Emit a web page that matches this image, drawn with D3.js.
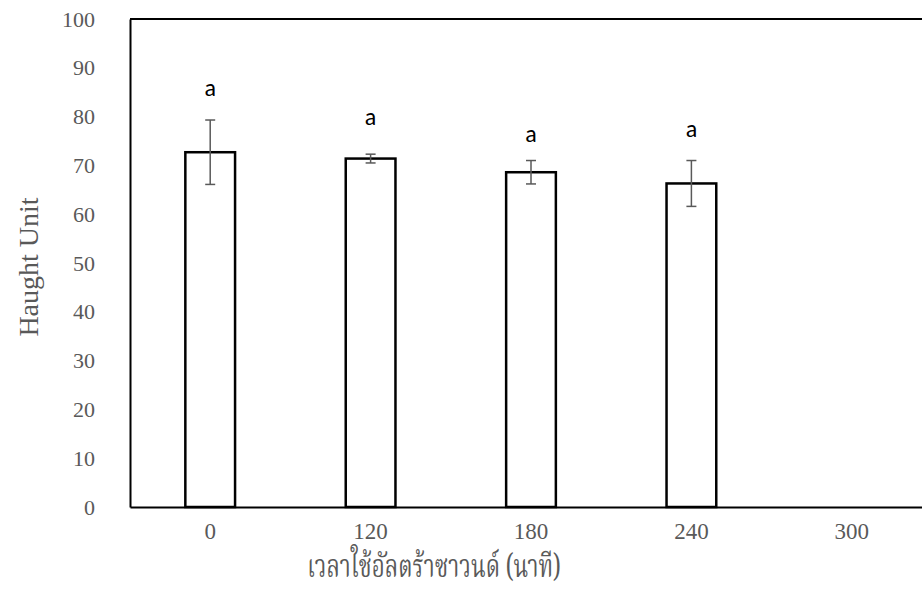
<!DOCTYPE html>
<html><head><meta charset="utf-8">
<script src="https://cdn.jsdelivr.net/npm/d3@7"></script>
<style>body{margin:0;background:#fff}</style>
</head><body>
<svg id="c" width="922" height="609"></svg>
<script>
const categories = ["0","120","180","240","300"];
const means = [72.7, 71.4, 68.6, 66.3, 0];
const errors = [6.6, 0.9, 2.4, 4.7, 0];
const letters = ["a","a","a","a",""];
const letterPos = [86.0, 79.9, 76.6, 77.5, 0];
const yTicks = [0,10,20,30,40,50,60,70,80,90,100];
const yTitle = "Haught Unit";
const xTitle = "เวลาใช้อัลตร้าซาวนด์ (นาที)";

const svg = d3.select("#c");
const L = 130, R = 932, T = 19, B = 507;
const x = d3.scaleBand().domain(categories).range([L, R]).padding(0);
const y = d3.scaleLinear().domain([0, 100]).range([B, T]);
const bw = x.bandwidth() * 0.31;
const gray = "#595959";
const serif = "'Liberation Serif','Times New Roman',serif";

const data = categories.map((c,i)=>({c, v: means[i], e: errors[i], l: letters[i], lp: letterPos[i]})).filter(d=>d.v>0);

// top frame line
svg.append("line").attr("x1", L).attr("x2", 922).attr("y1", y(100)).attr("y2", y(100))
  .attr("stroke", "#000").attr("stroke-width", 2);

// bars
svg.append("g").selectAll("rect").data(data)
  .join("rect")
  .attr("x", d => x(d.c) + x.bandwidth()/2 - bw/2)
  .attr("width", bw)
  .attr("y", d => y(d.v))
  .attr("height", d => y(0) - y(d.v))
  .attr("fill", "#fff").attr("stroke", "#000").attr("stroke-width", 2.5);

const eg = svg.append("g").attr("stroke", gray).attr("stroke-width", 1.5);
data.forEach(d => {
  const cx = x(d.c) + x.bandwidth()/2;
  eg.append("line").attr("x1", cx).attr("x2", cx).attr("y1", y(d.v + d.e)).attr("y2", y(d.v - d.e));
  eg.append("line").attr("x1", cx-5).attr("x2", cx+5).attr("y1", y(d.v + d.e)).attr("y2", y(d.v + d.e));
  eg.append("line").attr("x1", cx-5).attr("x2", cx+5).attr("y1", y(d.v - d.e)).attr("y2", y(d.v - d.e));
});

svg.append("g").selectAll("text").data(data).join("text")
  .attr("x", d => x(d.c) + x.bandwidth()/2)
  .attr("y", d => y(d.lp))
  .attr("dy", "0.35em")
  .attr("text-anchor", "middle")
  .attr("font-family", "Carlito, 'Open Sans', 'Noto Sans', sans-serif")
  .attr("font-size", 24).attr("fill", "#000")
  .text(d => d.l);

// y axis
const ya = svg.append("g").attr("transform", `translate(${L},0)`)
  .call(d3.axisLeft(y).tickValues(yTicks).tickSize(0).tickPadding(35));
ya.select(".domain").attr("stroke", "#000").attr("stroke-width", 2);
ya.selectAll("text").attr("font-family", serif).attr("font-size", 22).attr("fill", gray);

// x axis
const xa = svg.append("g").attr("transform", `translate(0,${B})`)
  .call(d3.axisBottom(x).tickSize(0).tickPadding(16));
xa.select(".domain").attr("stroke", "#000").attr("stroke-width", 2);
xa.selectAll("text").attr("font-family", serif).attr("font-size", 23).attr("fill", gray);

// titles
svg.append("text").attr("transform", `translate(38,267) rotate(-90)`)
  .attr("text-anchor", "middle").attr("font-family", serif).attr("font-size", 28).attr("fill", gray)
  .text(yTitle);
svg.append("text").attr("transform", "translate(434,577) scale(0.7,1)").attr("text-anchor", "middle")
  .attr("font-family", "'Noto Serif Thai','Noto Sans Thai','Tlwg Typo',serif").attr("font-size", 32).attr("fill", gray)
  .text(xTitle);
</script>
</body></html>
